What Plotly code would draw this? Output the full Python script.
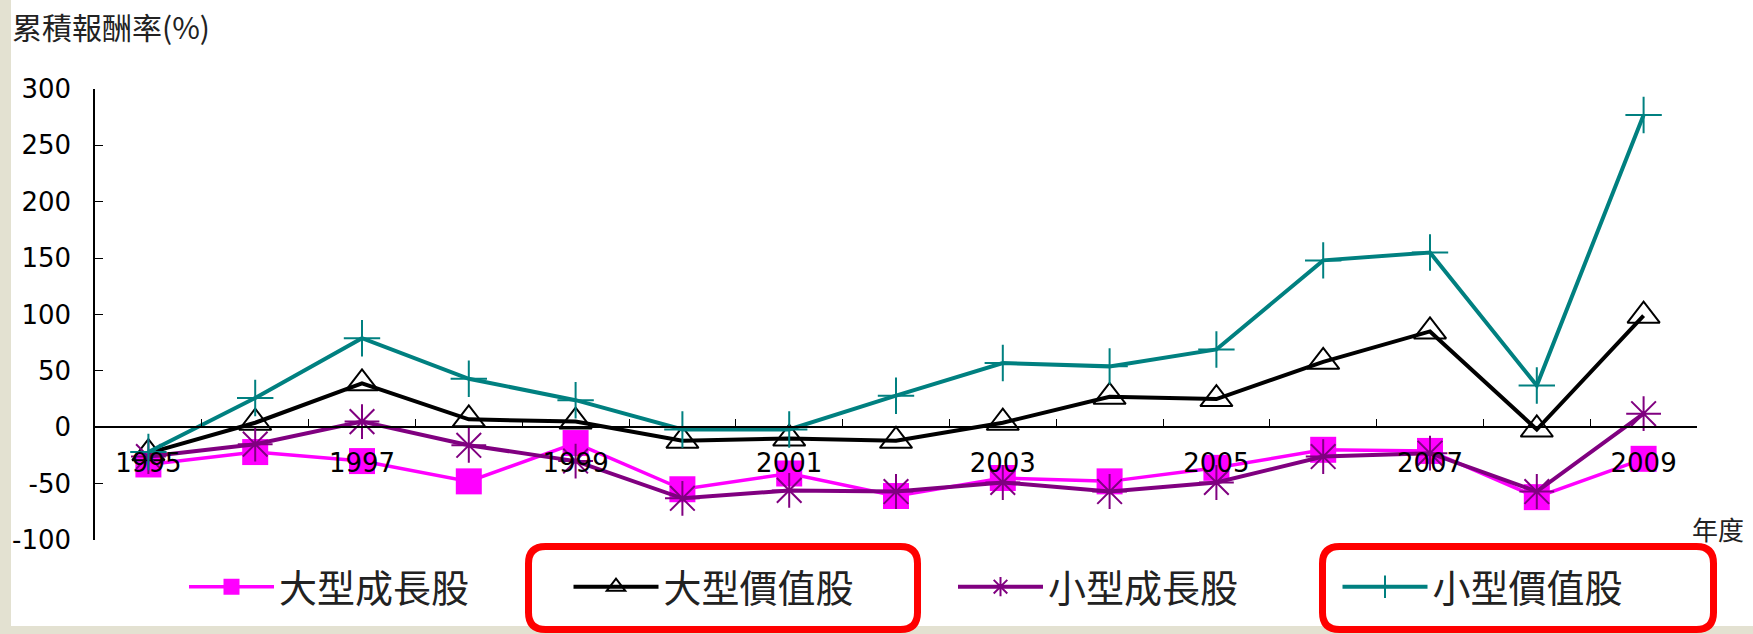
import plotly.graph_objects as go

# ---------------- data ----------------
years = [str(y) for y in range(1995, 2010)]
tick_labels = ["1995", "", "1997", "", "1999", "", "2001", "", "2003", "", "2005", "", "2007", "", "2009"]
series_names = ["大型成長股", "大型價值股", "小型成長股", "小型價值股"]
large_growth = [-33, -22, -30, -48, -14, -55, -41, -61, -45, -48, -36, -20, -21, -62, -28]
large_value = [-23, 4, 39, 7, 5, -12, -10, -12, 4, 27, 25, 58, 85, -2, 99]
small_growth = [-26, -15, 5, -16, -30, -63, -56, -57, -49, -57, -49, -26, -23, -57, 12]
small_value = [-22, 26, 79, 43, 24, -2, -2, 28, 57, 54, 69, 148, 155, 37, 277]
y_ticks = [-100, -50, 0, 50, 100, 150, 200, 250, 300]
y_tick_text = ["-100", "-50", "0", "50", "100", "150", "200", "250", "300"]

# ---------------- layout geometry ----------------
W, H = 1753, 634
ML, MR, MT, MB = 95, 56, 89, 94
PW, PH = W - ML - MR, H - MT - MB


def px2x(px):
    return (px - ML) / PW


def py2y(py):
    return (H - MB - py) / PH


CJK = "Noto Sans CJK TC"
NUM = "DejaVu Sans"

fig = go.Figure()

styles = [
    dict(color="#FF00FF", symbol="square", size=26, mline=0, lw=3.5),
    dict(color="#000000", symbol="triangle-up-open", size=28, mline=2, lw=4),
    dict(color="#800080", symbol="asterisk-open", size=29, mline=2, lw=4),
    dict(color="#008080", symbol="cross-thin-open", size=26, mline=2, lw=4),
]
for name, vals, st in zip(series_names, [large_growth, large_value, small_growth, small_value], styles):
    fig.add_trace(go.Scatter(
        x=years, y=vals, name=name, mode="lines+markers",
        line=dict(color=st["color"], width=st["lw"]),
        marker=dict(symbol=st["symbol"], size=st["size"], color=st["color"],
                    line=dict(color=st["color"], width=st["mline"])),
    ))

# white chart panel over the beige background
shapes = [dict(type="rect", xref="paper", yref="paper", layer="below",
               x0=px2x(11), x1=px2x(W + 5), y0=py2y(626), y1=py2y(-5),
               fillcolor="white", line=dict(width=0))]


def rrect(x0, y0, x1, y1, r):
    pts = [("M", [(x0 + r, y0)]), ("L", [(x1 - r, y0)]), ("Q", [(x1, y0), (x1, y0 + r)]),
           ("L", [(x1, y1 - r)]), ("Q", [(x1, y1), (x1 - r, y1)]), ("L", [(x0 + r, y1)]),
           ("Q", [(x0, y1), (x0, y1 - r)]), ("L", [(x0, y0 + r)]), ("Q", [(x0, y0), (x0 + r, y0)])]
    s = ""
    for cmd, ps in pts:
        s += cmd + " " + " ".join(f"{px2x(a):.5f},{py2y(b):.5f}" for a, b in ps) + " "
    return s + "Z"


for bx0, bx1 in [(528.5, 917.5), (1322.5, 1713.5)]:
    shapes.append(dict(type="path", xref="paper", yref="paper", layer="above",
                       path=rrect(bx0, 546.5, bx1, 629.5, 17),
                       line=dict(color="#FF0000", width=7)))

annotations = [
    dict(text="累積報酬率(%)", xref="paper", yref="paper", x=px2x(10), y=py2y(26),
         xanchor="left", yanchor="middle", showarrow=False,
         font=dict(family=CJK, size=30, color="#222222")),
    dict(text="年度", xref="paper", yref="paper", x=px2x(1690), y=py2y(528),
         xanchor="left", yanchor="middle", showarrow=False,
         font=dict(family=CJK, size=26, color="#222222")),
]

fig.update_layout(
    width=W, height=H,
    margin=dict(l=ML, r=MR, t=MT, b=MB, autoexpand=False),
    paper_bgcolor="#E3E1D1",
    plot_bgcolor="white",
    shapes=shapes,
    annotations=annotations,
    showlegend=True,
    legend=dict(orientation="h", x=px2x(1722), y=py2y(587), xanchor="right", yanchor="middle",
                entrywidth=284.5, entrywidthmode="pixels", itemwidth=85,
                bgcolor="rgba(0,0,0,0)", font=dict(family=CJK, size=38, color="#222222"),
                traceorder="normal"),
    xaxis=dict(
        type="category", range=[-0.5, 14.5], anchor="free", position=0.25,
        showline=True, linecolor="black", linewidth=1.5, showgrid=False, zeroline=False,
        tickmode="array", tickvals=years, ticktext=tick_labels, tickson="boundaries",
        ticks="inside", ticklen=8, tickcolor="black", tickangle=0,
        ticklabelstandoff=13,
        tickfont=dict(family=NUM, size=26, color="black"),
    ),
    yaxis=dict(
        range=[-100, 300], tickmode="array", tickvals=y_ticks, ticktext=y_tick_text,
        showline=True, linecolor="black", linewidth=1.5,
        showgrid=False, zeroline=False, ticks="inside", ticklen=8, tickcolor="black",
        ticklabelstandoff=17,
        tickfont=dict(family=NUM, size=26, color="black"),
    ),
)

fig.write_html(
    "out.html",
    config={"displayModeBar": False},
    post_script="document.body.style.margin='0';document.body.style.padding='0';"
                "document.body.style.background='#E3E1D1';document.body.style.overflow='hidden';",
)
